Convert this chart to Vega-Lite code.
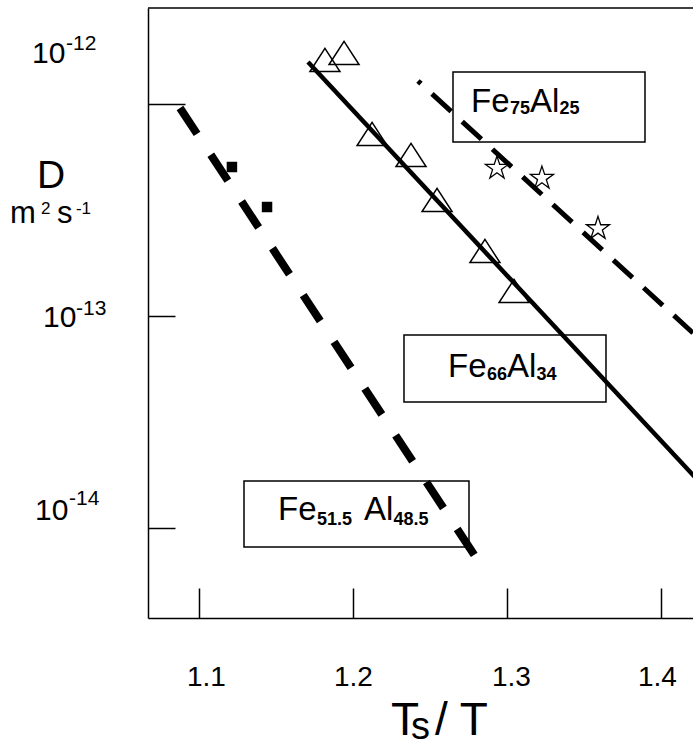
{
  "$schema": "https://vega.github.io/schema/vega-lite/v6.json",
  "width": 545,
  "height": 610,
  "autosize": "none",
  "padding": {"left": 148, "top": 8, "right": 0, "bottom": 126},
  "background": "white",
  "config": {
    "view": {"stroke": null},
    "font": "Liberation Sans",
    "text": {"font": "Liberation Sans", "color": "black"}
  },
  "datasets": {
    "Fe66Al34": [
      {"Ts_T": 1.1818, "log10D": -11.7925},
      {"Ts_T": 1.1942, "log10D": -11.7595},
      {"Ts_T": 1.2124, "log10D": -12.1415},
      {"Ts_T": 1.2377, "log10D": -12.2406},
      {"Ts_T": 1.2546, "log10D": -12.4528},
      {"Ts_T": 1.2857, "log10D": -12.6934},
      {"Ts_T": 1.3046, "log10D": -12.8821}
    ],
    "Fe75Al25": [
      {"Ts_T": 1.2935, "log10D": -12.3027},
      {"Ts_T": 1.3227, "log10D": -12.3499},
      {"Ts_T": 1.3591, "log10D": -12.5873}
    ],
    "Fe515Al485": [
      {"Ts_T": 1.1214, "log10D": -12.2972},
      {"Ts_T": 1.1442, "log10D": -12.4859}
    ],
    "fits": [
      {"alloy": "Fe66Al34", "Ts_T": 1.1708, "log10D": -11.8019},
      {"alloy": "Fe66Al34", "Ts_T": 1.43, "log10D": -13.8216},
      {"alloy": "Fe75Al25", "Ts_T": 1.24222, "log10D": -11.89155},
      {"alloy": "Fe75Al25", "Ts_T": 1.43, "log10D": -13.1416},
      {"alloy": "Fe51.5Al48.5", "Ts_T": 1.08768, "log10D": -12.0189},
      {"alloy": "Fe51.5Al48.5", "Ts_T": 1.27924, "log10D": -14.1321}
    ],
    "frame": [
      {"Ts_T": 1.0669, "Ts_T_end": 1.4208, "log10D": -11.5472}
    ],
    "boxes": [
      {"alloy": "Fe75Al25", "Ts_T": 1.26495, "Ts_T_end": 1.38963, "log10D": -11.84909, "log10D_end": -12.17928},
      {"alloy": "Fe66Al34", "Ts_T": 1.23313, "Ts_T_end": 1.3643, "log10D": -13.08966, "log10D_end": -13.4057},
      {"alloy": "Fe51.5Al48.5", "Ts_T": 1.12924, "Ts_T_end": 1.27534, "log10D": -13.77834, "log10D_end": -14.08966}
    ],
    "annotations": [
      {"role": "tick", "text": "10", "Ts_T": 0.99158, "log10D": -11.80663},
      {"role": "tick", "text": "10", "Ts_T": 0.99872, "log10D": -13.05192},
      {"role": "tick", "text": "10", "Ts_T": 0.99352, "log10D": -13.9623},
      {"role": "sup", "text": "-12", "Ts_T": 1.01365, "log10D": -11.74531},
      {"role": "sup", "text": "-13", "Ts_T": 1.02015, "log10D": -12.99532},
      {"role": "sup", "text": "-14", "Ts_T": 1.0156, "log10D": -13.89155},
      {"role": "label", "text": "Fe", "Ts_T": 1.27664, "log10D": -12.03777},
      {"role": "label", "text": "Al", "Ts_T": 1.31495, "log10D": -12.03777},
      {"role": "label", "text": "Fe", "Ts_T": 1.26171, "log10D": -13.28777},
      {"role": "label", "text": "Al", "Ts_T": 1.30002, "log10D": -13.28777},
      {"role": "label", "text": "Fe", "Ts_T": 1.15132, "log10D": -13.9623},
      {"role": "label", "text": "Al", "Ts_T": 1.20716, "log10D": -13.9623},
      {"role": "sub", "text": "75", "Ts_T": 1.30196, "log10D": -12.0472},
      {"role": "sub", "text": "25", "Ts_T": 1.33411, "log10D": -12.0472},
      {"role": "sub", "text": "66", "Ts_T": 1.28703, "log10D": -13.30192},
      {"role": "sub", "text": "34", "Ts_T": 1.31917, "log10D": -13.30192},
      {"role": "sub", "text": "51.5", "Ts_T": 1.17664, "log10D": -13.98589},
      {"role": "sub", "text": "48.5", "Ts_T": 1.22632, "log10D": -13.98589},
      {"role": "D", "text": "D", "Ts_T": 0.99482, "log10D": -12.39626},
      {"role": "unit", "text": "m", "Ts_T": 0.97729, "log10D": -12.56135},
      {"role": "unit", "text": "s", "Ts_T": 1.00781, "log10D": -12.56135},
      {"role": "unitsup", "text": "2", "Ts_T": 0.99742, "log10D": -12.5189},
      {"role": "unitsup", "text": "-1", "Ts_T": 1.0201, "log10D": -12.5189},
      {"role": "title", "text": "T", "Ts_T": 1.22469, "log10D": -14.97646},
      {"role": "title", "text": "/ T", "Ts_T": 1.25326, "log10D": -14.97646},
      {"role": "titlesub", "text": "s", "Ts_T": 1.23768, "log10D": -14.99533}
    ]
  },
  "layer": [
    {
      "data": {"name": "frame"},
      "mark": {"type": "rule", "color": "black", "strokeWidth": 1.5},
      "encoding": {
        "x": {"field": "Ts_T", "type": "quantitative", "scale": {"domain": [1.0669, 1.4208], "nice": false, "zero": false},
          "axis": {"values": [1.1, 1.2, 1.3, 1.4], "format": ".1f", "title": null, "grid": false,
            "domainColor": "black", "domainWidth": 1.5, "tickColor": "black", "tickWidth": 1.5, "tickSize": -30,
            "labelFontSize": 28, "labelFont": "Liberation Sans", "labelColor": "black", "labelPadding": 75, "labelFlush": false,
            "labelOffset": {"condition": [{"test": "datum.value < 1.15", "value": 7}, {"test": "datum.value > 1.25 && datum.value < 1.35", "value": 4}, {"test": "datum.value > 1.35", "value": -4}], "value": 0}}},
        "x2": {"field": "Ts_T_end"},
        "y": {"field": "log10D", "type": "quantitative", "scale": {"domain": [-14.4245, -11.5472], "nice": false, "zero": false},
          "axis": {"values": [-12, -13, -14], "labels": false, "title": null, "grid": false,
            "domainColor": "black", "domainWidth": 1.5, "tickColor": "black", "tickWidth": 1.5,
            "tickSize": {"condition": {"test": "datum.value > -12.5", "value": -37}, "value": -27}}}
      }
    },
    {
      "data": {"name": "fits"},
      "transform": [{"filter": "datum.alloy === 'Fe66Al34'"}],
      "mark": {"type": "line", "color": "black", "strokeWidth": 4.5, "clip": true},
      "encoding": {
        "x": {"field": "Ts_T", "type": "quantitative"},
        "y": {"field": "log10D", "type": "quantitative"}
      }
    },
    {
      "data": {"name": "fits"},
      "transform": [{"filter": "datum.alloy === 'Fe75Al25'"}],
      "mark": {"type": "line", "color": "black", "strokeWidth": 5, "strokeDash": [26, 15], "strokeDashOffset": 22, "strokeCap": "butt", "clip": true},
      "encoding": {
        "x": {"field": "Ts_T", "type": "quantitative"},
        "y": {"field": "log10D", "type": "quantitative"}
      }
    },
    {
      "data": {"name": "fits"},
      "transform": [{"filter": "datum.alloy === 'Fe51.5Al48.5'"}],
      "mark": {"type": "line", "color": "black", "strokeWidth": 8, "strokeDash": [31, 25], "strokeCap": "butt", "clip": true},
      "encoding": {
        "x": {"field": "Ts_T", "type": "quantitative"},
        "y": {"field": "log10D", "type": "quantitative"}
      }
    },
    {
      "data": {"name": "Fe66Al34"},
      "mark": {"type": "point", "shape": "M0,-0.77L1,0.77L-1,0.77Z", "size": 900, "filled": false, "stroke": "black", "strokeWidth": 1.5, "opacity": 1},
      "encoding": {
        "x": {"field": "Ts_T", "type": "quantitative"},
        "y": {"field": "log10D", "type": "quantitative"}
      }
    },
    {
      "data": {"name": "Fe75Al25"},
      "mark": {"type": "point", "shape": "M0,-1L0.2245,-0.309L0.951,-0.309L0.363,0.118L0.588,0.809L0,0.382L-0.588,0.809L-0.363,0.118L-0.951,-0.309L-0.2245,-0.309Z", "size": 585, "filled": true, "fill": "white", "stroke": "black", "strokeWidth": 1.3, "opacity": 1},
      "encoding": {
        "x": {"field": "Ts_T", "type": "quantitative"},
        "y": {"field": "log10D", "type": "quantitative"}
      }
    },
    {
      "data": {"name": "Fe515Al485"},
      "mark": {"type": "point", "shape": "square", "size": 110, "filled": true, "color": "black", "opacity": 1},
      "encoding": {
        "x": {"field": "Ts_T", "type": "quantitative"},
        "y": {"field": "log10D", "type": "quantitative"}
      }
    },
    {
      "data": {"name": "boxes"},
      "mark": {"type": "rect", "filled": false, "stroke": "black", "strokeWidth": 1.5},
      "encoding": {
        "x": {"field": "Ts_T", "type": "quantitative"},
        "x2": {"field": "Ts_T_end"},
        "y": {"field": "log10D", "type": "quantitative"},
        "y2": {"field": "log10D_end"}
      }
    },
    {
      "data": {"name": "annotations"},
      "transform": [{"filter": "datum.role === 'tick'"}],
      "mark": {"type": "text", "align": "left", "baseline": "alphabetic", "fontSize": 30},
      "encoding": {
        "x": {"field": "Ts_T", "type": "quantitative"},
        "y": {"field": "log10D", "type": "quantitative"},
        "text": {"field": "text"}
      }
    },
    {
      "data": {"name": "annotations"},
      "transform": [{"filter": "datum.role === 'sup'"}],
      "mark": {"type": "text", "align": "left", "baseline": "alphabetic", "fontSize": 21},
      "encoding": {
        "x": {"field": "Ts_T", "type": "quantitative"},
        "y": {"field": "log10D", "type": "quantitative"},
        "text": {"field": "text"}
      }
    },
    {
      "data": {"name": "annotations"},
      "transform": [{"filter": "datum.role === 'label'"}],
      "mark": {"type": "text", "align": "left", "baseline": "alphabetic", "fontSize": 33},
      "encoding": {
        "x": {"field": "Ts_T", "type": "quantitative"},
        "y": {"field": "log10D", "type": "quantitative"},
        "text": {"field": "text"}
      }
    },
    {
      "data": {"name": "annotations"},
      "transform": [{"filter": "datum.role === 'sub'"}],
      "mark": {"type": "text", "align": "left", "baseline": "alphabetic", "fontSize": 18, "fontWeight": "bold"},
      "encoding": {
        "x": {"field": "Ts_T", "type": "quantitative"},
        "y": {"field": "log10D", "type": "quantitative"},
        "text": {"field": "text"}
      }
    },
    {
      "data": {"name": "annotations"},
      "transform": [{"filter": "datum.role === 'D'"}],
      "mark": {"type": "text", "align": "left", "baseline": "alphabetic", "fontSize": 39},
      "encoding": {
        "x": {"field": "Ts_T", "type": "quantitative"},
        "y": {"field": "log10D", "type": "quantitative"},
        "text": {"field": "text"}
      }
    },
    {
      "data": {"name": "annotations"},
      "transform": [{"filter": "datum.role === 'unit'"}],
      "mark": {"type": "text", "align": "left", "baseline": "alphabetic", "fontSize": 31},
      "encoding": {
        "x": {"field": "Ts_T", "type": "quantitative"},
        "y": {"field": "log10D", "type": "quantitative"},
        "text": {"field": "text"}
      }
    },
    {
      "data": {"name": "annotations"},
      "transform": [{"filter": "datum.role === 'unitsup'"}],
      "mark": {"type": "text", "align": "left", "baseline": "alphabetic", "fontSize": 17},
      "encoding": {
        "x": {"field": "Ts_T", "type": "quantitative"},
        "y": {"field": "log10D", "type": "quantitative"},
        "text": {"field": "text"}
      }
    },
    {
      "data": {"name": "annotations"},
      "transform": [{"filter": "datum.role === 'title'"}],
      "mark": {"type": "text", "align": "left", "baseline": "alphabetic", "fontSize": 46},
      "encoding": {
        "x": {"field": "Ts_T", "type": "quantitative"},
        "y": {"field": "log10D", "type": "quantitative"},
        "text": {"field": "text"}
      }
    },
    {
      "data": {"name": "annotations"},
      "transform": [{"filter": "datum.role === 'titlesub'"}],
      "mark": {"type": "text", "align": "left", "baseline": "alphabetic", "fontSize": 38},
      "encoding": {
        "x": {"field": "Ts_T", "type": "quantitative"},
        "y": {"field": "log10D", "type": "quantitative"},
        "text": {"field": "text"}
      }
    }
  ]
}
